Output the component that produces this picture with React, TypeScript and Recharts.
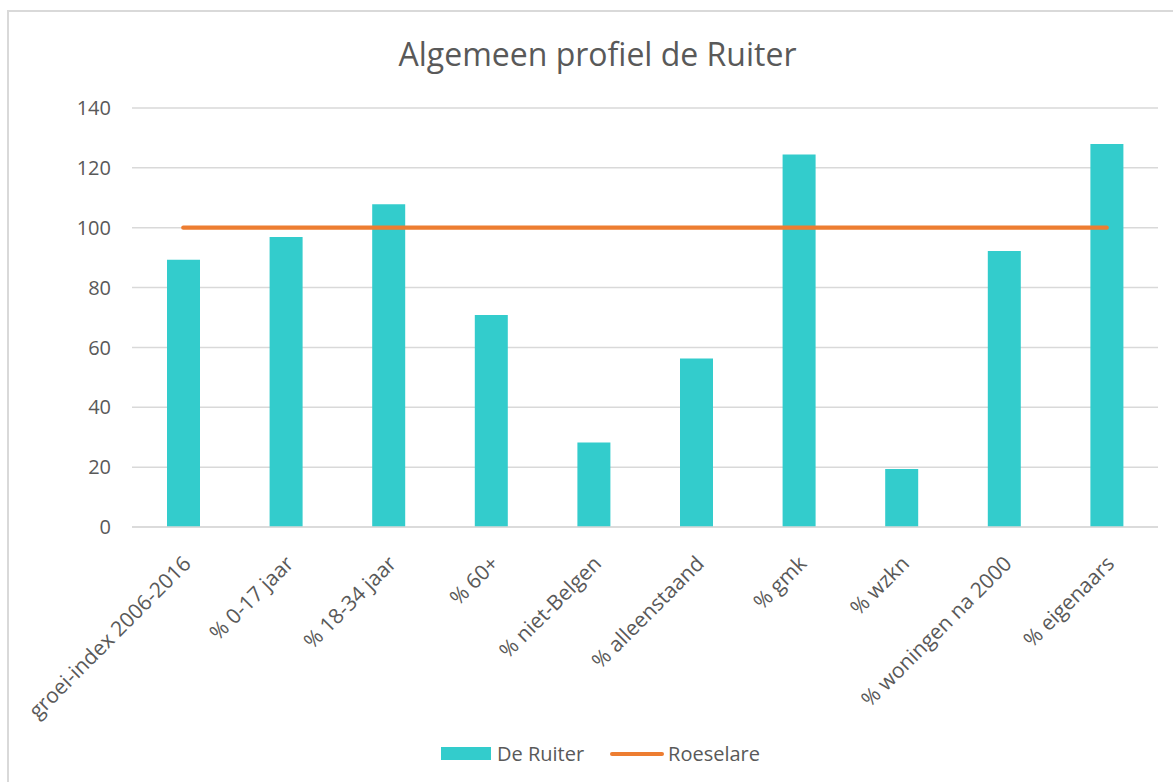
import { Bar, CartesianGrid, ComposedChart, Legend, Line, XAxis, YAxis } from 'recharts';

const categories = [
  'groei-index 2006-2016',
  '% 0-17 jaar',
  '% 18-34 jaar',
  '% 60+',
  '% niet-Belgen',
  '% alleenstaand',
  '% gmk',
  '% wzkn',
  '% woningen na 2000',
  '% eigenaars',
];
const deRuiter = [89.3, 96.9, 107.8, 70.8, 28.2, 56.3, 124.5, 19.4, 92.2, 128.0];
const roeselare = [100, 100, 100, 100, 100, 100, 100, 100, 100, 100];
const yTicks = [0, 20, 40, 60, 80, 100, 120, 140];

const data = categories.map((name, i) => ({
  name,
  deRuiter: deRuiter[i],
  roeselare: roeselare[i],
}));

const FONT = '"Open Sans", sans-serif';
const TEXT = '#595959';

function XTick({ x, y, payload }: any) {
  const ax = x + 9;
  const ay = y + 30;
  return (
    <text
      x={ax}
      y={ay}
      transform={`rotate(-45, ${ax}, ${ay})`}
      textAnchor="end"
      fill={TEXT}
      fontSize={21}
      fontFamily={FONT}
    >
      {payload.value}
    </text>
  );
}

function ChartLegend() {
  return (
    <div style={{ display: 'flex', alignItems: 'center', justifyContent: 'center', fontFamily: FONT, fontSize: 20, color: TEXT }}>
      <span style={{ display: 'inline-block', width: 50, height: 13, background: '#33CCCC', marginRight: 6 }} />
      <span style={{ marginRight: 26 }}>De Ruiter</span>
      <span style={{ display: 'inline-block', width: 54, height: 4, borderRadius: 2, background: '#ED7D31', marginRight: 4 }} />
      <span>Roeselare</span>
    </div>
  );
}

export default function App() {
  return (
    <div style={{ position: 'absolute', left: 0, top: 0, width: 1173, height: 782, background: '#fff', overflow: 'hidden' }}>
      <div
        style={{
          position: 'absolute',
          left: 7,
          top: 10,
          width: 1200,
          height: 800,
          borderLeft: '2px solid #d9d9d9',
          borderTop: '2px solid #d9d9d9',
        }}
      />
      <div
        style={{
          position: 'absolute',
          left: 0,
          top: 32,
          width: 1195,
          textAlign: 'center',
          fontFamily: FONT,
          fontSize: 32,
          color: TEXT,
        }}
      >
        Algemeen profiel de Ruiter
      </div>
      <div style={{ position: 'absolute', left: 0, top: 0 }}>
        <ComposedChart width={1173} height={782} data={data} margin={{ top: 108, right: 15, bottom: 0, left: 0 }}>
          <CartesianGrid vertical={false} stroke="#d9d9d9" strokeWidth={1.5} />
          <XAxis
            dataKey="name"
            height={255}
            interval={0}
            tickLine={false}
            axisLine={{ stroke: '#d9d9d9', strokeWidth: 1.5 }}
            tick={<XTick />}
          />
          <YAxis
            width={132}
            domain={[0, 140]}
            ticks={yTicks}
            axisLine={false}
            tickLine={false}
            tickSize={0}
            tickMargin={21}
            tick={{ fill: TEXT, fontSize: 20, fontFamily: FONT }}
          />
          <Legend
            layout="horizontal"
            verticalAlign="middle"
            align="center"
            content={<ChartLegend />}
            wrapperStyle={{ top: 740, left: 14, width: 1173 }}
          />
          <Bar dataKey="deRuiter" name="De Ruiter" fill="#33CCCC" barSize={33} isAnimationActive={false} />
          <Line
            dataKey="roeselare"
            name="Roeselare"
            stroke="#ED7D31"
            strokeWidth={4.3}
            strokeLinecap="round"
            dot={false}
            activeDot={false}
            isAnimationActive={false}
          />
        </ComposedChart>
      </div>
    </div>
  );
}
